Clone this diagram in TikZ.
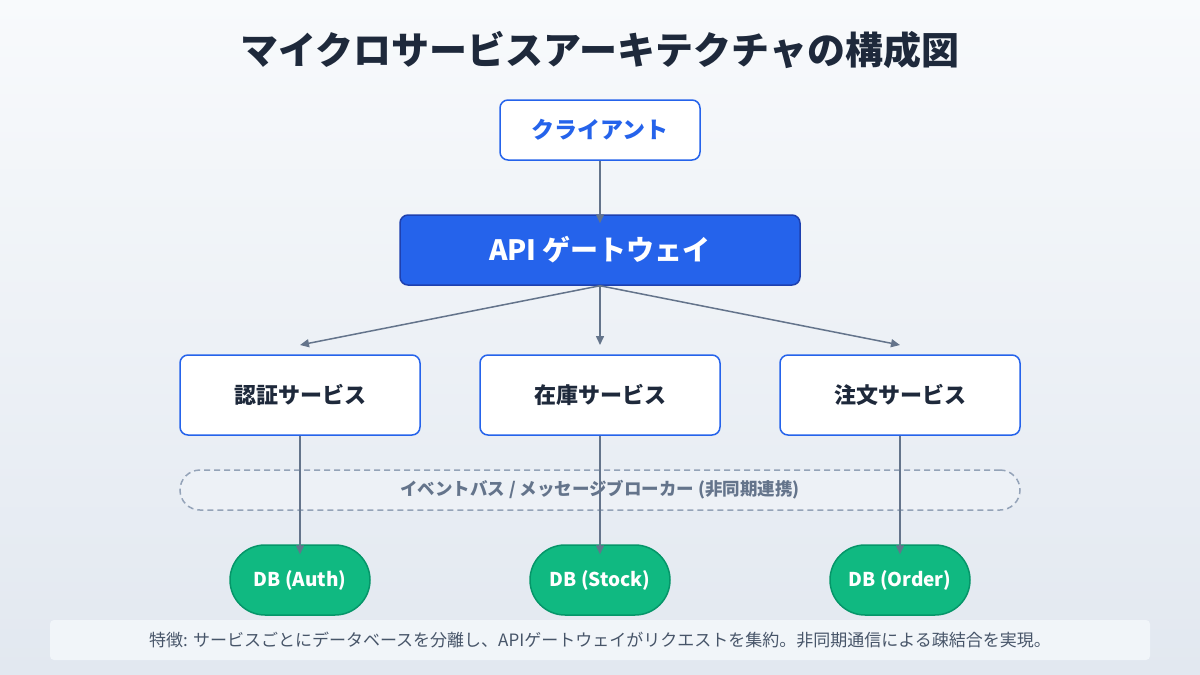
\documentclass[tikz,border=0pt]{standalone}
\usepackage{fontspec}
\setmainfont{Noto Sans CJK JP}
\usetikzlibrary{arrows.meta}
\definecolor{bgA}{HTML}{F8FAFC}
\definecolor{bgB}{HTML}{E2E8F0}
\definecolor{blu}{HTML}{2563EB}
\definecolor{bluD}{HTML}{1E40AF}
\definecolor{dark}{HTML}{1E293B}
\definecolor{gry}{HTML}{64748B}
\definecolor{gryL}{HTML}{94A3B8}
\definecolor{grn}{HTML}{10B981}
\definecolor{grnD}{HTML}{059669}
\definecolor{foot}{HTML}{F1F5F9}
\definecolor{footT}{HTML}{475569}
\tikzset{
 box/.style={draw=blu,line width=1.5pt,fill=white,rounded corners=8pt,minimum height=60pt,font=\bfseries\fontsize{23}{26}\selectfont,text=dark},
 svc/.style={box,minimum width=240pt,minimum height=80pt,font=\bfseries\fontsize{22}{26}\selectfont},
 db/.style={draw=grnD,line width=1.5pt,fill=grn,rounded corners=35pt,minimum width=140pt,minimum height=70pt,text=white,font=\bfseries\fontsize{19}{22}\selectfont},
 arr/.style={draw=gry,line width=1.5pt,-{Triangle[length=9pt,width=8pt]}},
}
\begin{document}
\begin{tikzpicture}[x=1pt,y=-1pt]
\shade[top color=bgA,bottom color=bgB] (0,0) rectangle (1200,675);
\useasboundingbox (0,0) rectangle (1200,675);
\node[text=dark,font=\bfseries\fontsize{38}{44}\selectfont] (title) at (600,50) {マイクロサービスアーキテクチャの構成図};
\node[box,minimum width=200pt,text=blu] (cl) at (600,130) {クライアント};
\node[box,fill=blu,draw=bluD,minimum width=400pt,minimum height=70pt,text=white,font=\bfseries\fontsize{28}{32}\selectfont] (gw) at (600,250) {API ゲートウェイ};
\node[svc] (s1) at (300,395) {認証サービス};
\node[svc] (s2) at (600,395) {在庫サービス};
\node[svc] (s3) at (900,395) {注文サービス};
\node[draw=gryL,line width=1.5pt,dash pattern=on 6pt off 4pt,fill=foot,fill opacity=0.6,text opacity=1,rounded corners=20pt,minimum width=840pt,minimum height=40pt,text=gry,font=\bfseries\fontsize{17.5}{20}\selectfont] (bus) at (600,490) {イベントバス / メッセージブローカー (非同期連携)};
\node[db] (d1) at (300,580) {DB (Auth)};
\node[db] (d2) at (600,580) {DB (Stock)};
\node[db] (d3) at (900,580) {DB (Order)};
\node[fill=foot,rounded corners=4pt,minimum width=1100pt,minimum height=40pt,text=footT,font=\fontsize{17}{20}\selectfont] (ft) at (600,640) {特徴: サービスごとにデータベースを分離し、APIゲートウェイがリクエストを集約。非同期通信による疎結合を実現。};
\coordinate (t1) at (300,345);
\coordinate (t2) at (600,345);
\coordinate (t3) at (900,345);
\draw[arr] (cl.south) -- ([yshift=-9pt]gw.north);
\draw[arr] (gw.south) -- (t1);
\draw[arr] (gw.south) -- (t2);
\draw[arr] (gw.south) -- (t3);
\draw[arr] (s1.south) -- ([yshift=-10pt]d1.north);
\draw[arr] (s2.south) -- ([yshift=-10pt]d2.north);
\draw[arr] (s3.south) -- ([yshift=-10pt]d3.north);
\end{tikzpicture}
\end{document}
